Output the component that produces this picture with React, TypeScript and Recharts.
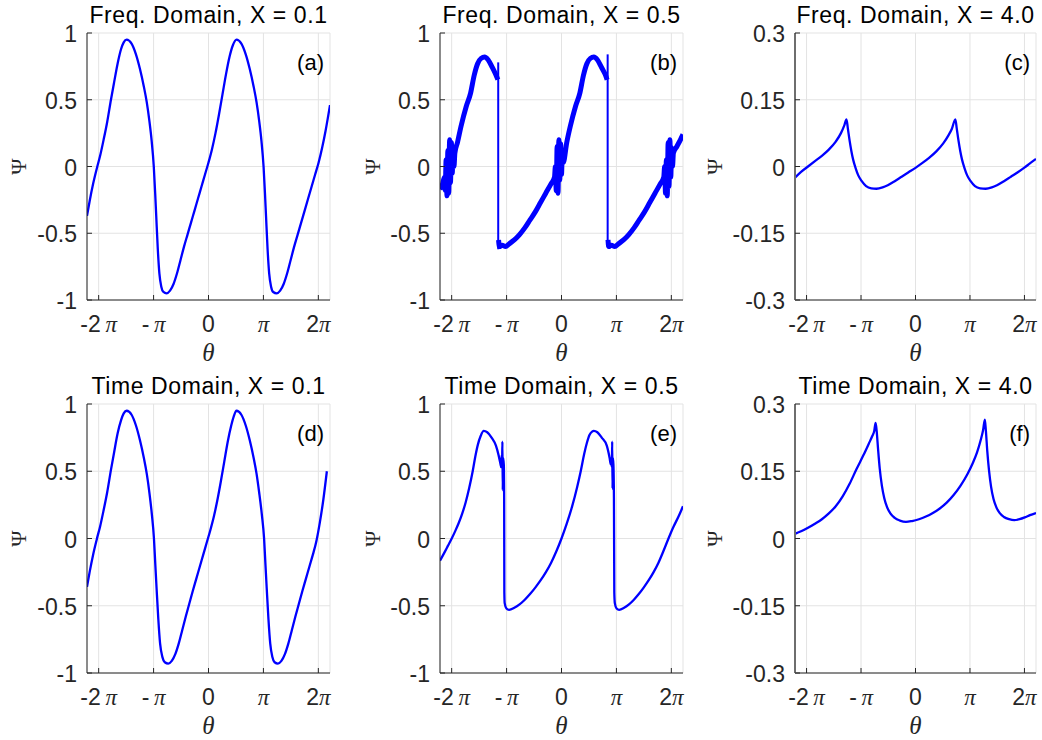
import React from 'react';
import { LineChart, Line, XAxis, YAxis, CartesianGrid } from 'recharts';

const PI = Math.PI;
const XMAX = 6.95;
const xTickVals = [-2 * PI, -PI, 0, PI, 2 * PI];
const xTickPrefix = ['-2\u2009', '-\u2009', '0', '', '2'];
const xTickHasPi = [true, true, false, true, true];

const yTicksUnit = [-1, -0.5, 0, 0.5, 1];
const yLabelsUnit = ['-1', '-0.5', '0', '0.5', '1'];
const yTicksSmall = [-0.3, -0.15, 0, 0.15, 0.3];
const yLabelsSmall = ['-0.3', '-0.15', '0', '0.15', '0.3'];

const titles = [
  'Freq. Domain, X = 0.1', 'Freq. Domain, X = 0.5', 'Freq. Domain, X = 4.0',
  'Time Domain, X = 0.1', 'Time Domain, X = 0.5', 'Time Domain, X = 4.0',
];
const letters = ['(a)', '(b)', '(c)', '(d)', '(e)', '(f)'];

// Panel (a) Freq. Domain X=0.1
const thetaA = [-6.95, -6.8, -6.6, -6.36, -6.2, -6.0, -5.8, -5.58, -5.4, -5.2, -5.0, -4.85, -4.68, -4.4, -4.15, -3.92, -3.7, -3.53, -3.38, -3.25, -3.13, -3.05, -2.99, -2.9, -2.81, -2.7, -2.58, -2.4, -2.2, -2.0, -1.8, -1.6, -1.4, -1.2, -1.0, -0.8, -0.6, -0.4, -0.2, 0.0, 0.2, 0.4, 0.6, 0.8, 1.0, 1.2, 1.4, 1.6, 1.88, 2.13, 2.36, 2.58, 2.75, 2.9, 3.03, 3.15, 3.23, 3.29, 3.38, 3.47, 3.58, 3.7, 3.9, 4.1, 4.3, 4.5, 4.7, 4.9, 5.1, 5.3, 5.5, 5.7, 5.9, 6.1, 6.3, 6.5, 6.7, 6.95];
const psiA = [-0.37, -0.26, -0.13, 0.0, 0.08, 0.2, 0.33, 0.5, 0.63, 0.77, 0.88, 0.93, 0.95, 0.92, 0.84, 0.73, 0.6, 0.48, 0.34, 0.19, 0.0, -0.2, -0.37, -0.62, -0.8, -0.9, -0.94, -0.95, -0.93, -0.88, -0.8, -0.7, -0.6, -0.51, -0.42, -0.33, -0.24, -0.15, -0.06, 0.03, 0.13, 0.25, 0.39, 0.54, 0.69, 0.82, 0.91, 0.95, 0.92, 0.84, 0.73, 0.6, 0.48, 0.34, 0.19, 0.0, -0.2, -0.37, -0.62, -0.8, -0.9, -0.94, -0.95, -0.93, -0.88, -0.8, -0.7, -0.6, -0.51, -0.42, -0.33, -0.24, -0.15, -0.06, 0.03, 0.14, 0.27, 0.46];

// Panel (b) Freq. Domain X=0.5 (thick noisy band + thin jumps)
const thetaB1 = [-6.95, -6.8, -6.7, -6.65, -6.6, -6.55, -6.5, -6.45, -6.4, -6.35, -6.3, -6.25, -6.2, -6.15, -6.1, -5.95, -5.75, -5.45, -5.2, -5.0, -4.8, -4.6, -4.4, -4.2, -3.95, -3.8, -3.7, -3.64];
const psiB1 = [-0.17, -0.13, -0.08, -0.18, 0.05, -0.22, 0.12, -0.2, 0.2, -0.12, 0.18, -0.05, 0.14, 0.0, 0.1, 0.18, 0.3, 0.45, 0.55, 0.68, 0.77, 0.81, 0.82, 0.8, 0.74, 0.7, 0.67, 0.65];
const thetaB2 = [-3.6, -3.55, -3.4, -3.2, -3.0, -2.7, -2.4, -2.1, -1.8, -1.5, -1.2, -0.9, -0.6, -0.4, -0.35, -0.3, -0.25, -0.2, -0.15, -0.1, -0.05, 0.0, 0.05, 0.1, 0.3, 0.5, 0.8, 1.05, 1.25, 1.45, 1.65, 1.85, 2.05, 2.3, 2.5, 2.61];
const psiB2 = [-0.55, -0.6, -0.59, -0.6, -0.58, -0.55, -0.51, -0.46, -0.4, -0.34, -0.27, -0.2, -0.13, -0.08, 0.0, -0.18, 0.15, -0.2, 0.2, -0.1, 0.17, -0.06, 0.12, 0.03, 0.18, 0.3, 0.45, 0.55, 0.68, 0.77, 0.81, 0.82, 0.8, 0.74, 0.69, 0.65];
const thetaB3 = [2.66, 2.7, 2.85, 3.05, 3.25, 3.55, 3.85, 4.15, 4.45, 4.75, 5.05, 5.35, 5.65, 5.85, 5.9, 5.95, 6.0, 6.05, 6.1, 6.15, 6.2, 6.25, 6.3, 6.35, 6.4, 6.6, 6.8, 6.95];
const psiB3 = [-0.55, -0.6, -0.59, -0.6, -0.58, -0.55, -0.51, -0.46, -0.4, -0.34, -0.27, -0.2, -0.13, -0.08, 0.0, -0.2, 0.05, -0.22, 0.18, -0.15, 0.2, -0.08, 0.14, 0.0, 0.1, 0.15, 0.2, 0.24];
const thetaJumpB1 = [-3.62, -3.62];
const psiJumpB1 = [0.78, -0.62];
const thetaJumpB2 = [2.64, 2.64];
const psiJumpB2 = [0.84, -0.6];

// Panel (c) Freq. Domain X=4.0
const thetaC = [-6.95, -6.6, -6.2, -5.8, -5.4, -5.0, -4.6, -4.3, -4.1, -3.98, -3.9, -3.8, -3.7, -3.6, -3.45, -3.3, -3.1, -2.85, -2.55, -2.25, -1.9, -1.6, -1.2, -0.8, -0.4, 0, 0.4, 0.8, 1.2, 1.6, 1.9, 2.1, 2.3, 2.38, 2.48, 2.58, 2.68, 2.83, 2.98, 3.18, 3.43, 3.73, 4.05, 4.4, 4.7, 5.1, 5.5, 5.9, 6.3, 6.6, 6.95];
const psiC = [-0.025, -0.012, 0.0, 0.012, 0.024, 0.038, 0.056, 0.075, 0.093, 0.106, 0.085, 0.058, 0.035, 0.016, -0.004, -0.02, -0.033, -0.044, -0.049, -0.05, -0.047, -0.042, -0.033, -0.023, -0.013, -0.003, 0.008, 0.02, 0.034, 0.052, 0.07, 0.085, 0.106, 0.085, 0.058, 0.035, 0.016, -0.004, -0.02, -0.033, -0.044, -0.049, -0.05, -0.047, -0.042, -0.033, -0.023, -0.013, -0.002, 0.007, 0.017];

// Panel (d) Time Domain X=0.1
const thetaD = [-6.95, -6.8, -6.6, -6.36, -6.2, -6.0, -5.8, -5.58, -5.4, -5.2, -5.0, -4.85, -4.68, -4.4, -4.15, -3.92, -3.7, -3.53, -3.38, -3.24, -3.12, -3.04, -2.97, -2.87, -2.77, -2.64, -2.5, -2.3, -2.1, -1.9, -1.7, -1.5, -1.3, -1.1, -0.9, -0.7, -0.5, -0.3, -0.1, 0.1, 0.3, 0.5, 0.7, 0.9, 1.1, 1.3, 1.45, 1.6, 1.88, 2.13, 2.36, 2.58, 2.75, 2.9, 3.05, 3.18, 3.26, 3.33, 3.43, 3.53, 3.65, 3.78, 3.97, 4.17, 4.37, 4.57, 4.77, 4.97, 5.17, 5.37, 5.57, 5.77, 5.97, 6.17, 6.37, 6.57, 6.77, 6.95];
const psiD = [-0.36, -0.25, -0.12, 0.01, 0.09, 0.21, 0.34, 0.51, 0.64, 0.78, 0.88, 0.93, 0.95, 0.92, 0.84, 0.73, 0.6, 0.48, 0.34, 0.18, 0.0, -0.2, -0.37, -0.6, -0.78, -0.88, -0.92, -0.93, -0.91, -0.86, -0.78, -0.68, -0.58, -0.485, -0.39, -0.3, -0.21, -0.12, -0.03, 0.06, 0.16, 0.28, 0.42, 0.57, 0.72, 0.84, 0.91, 0.95, 0.92, 0.84, 0.73, 0.6, 0.48, 0.34, 0.18, 0.0, -0.2, -0.37, -0.6, -0.78, -0.88, -0.92, -0.93, -0.91, -0.86, -0.78, -0.68, -0.58, -0.485, -0.39, -0.3, -0.21, -0.12, -0.02, 0.12, 0.29, 0.5];

// Panel (e) Time Domain X=0.5
const thetaE = [-6.95, -6.7, -6.5, -6.28, -6.08, -5.88, -5.68, -5.48, -5.28, -5.08, -4.93, -4.78, -4.63, -4.45, -4.25, -4.0, -3.75, -3.6, -3.5, -3.45, -3.42, -3.4, -3.38, -3.36, -3.34, -3.3, -3.28, -3.27, -3.25, -3.15, -3.0, -2.7, -2.4, -2.1, -1.8, -1.5, -1.2, -0.9, -0.6, -0.3, 0.0, 0.3, 0.6, 0.9, 1.1, 1.3, 1.45, 1.6, 1.75, 1.85, 2.05, 2.3, 2.59, 2.75, 2.82, 2.86, 2.88, 2.9, 2.92, 2.94, 2.97, 3.0, 3.02, 3.05, 3.15, 3.3, 3.58, 3.86, 4.14, 4.42, 4.7, 4.98, 5.26, 5.54, 5.82, 6.12, 6.4, 6.7, 6.95];
const psiE = [-0.165, -0.105, -0.055, 0.0, 0.055, 0.115, 0.185, 0.27, 0.375, 0.5, 0.61, 0.7, 0.76, 0.8, 0.79, 0.75, 0.69, 0.62, 0.56, 0.53, 0.62, 0.55, 0.72, 0.36, 0.6, 0.55, 0.3, -0.4, -0.48, -0.52, -0.53, -0.515, -0.49, -0.455, -0.413, -0.365, -0.312, -0.252, -0.182, -0.097, 0.0, 0.11, 0.235, 0.385, 0.5, 0.63, 0.71, 0.77, 0.795, 0.8, 0.79, 0.75, 0.69, 0.6, 0.55, 0.6, 0.53, 0.72, 0.37, 0.6, 0.55, 0.3, -0.4, -0.48, -0.52, -0.53, -0.515, -0.49, -0.455, -0.413, -0.365, -0.312, -0.252, -0.182, -0.097, 0.0, 0.085, 0.165, 0.24];

// Panel (f) Time Domain X=4.0
const thetaF = [-6.95, -6.6, -6.2, -5.8, -5.4, -5.0, -4.6, -4.2, -3.8, -3.4, -3.0, -2.7, -2.5, -2.38, -2.3, -2.24, -2.16, -2.06, -1.94, -1.8, -1.64, -1.45, -1.2, -0.9, -0.55, -0.2, 0.2, 0.6, 1.0, 1.4, 1.8, 2.2, 2.6, 3.0, 3.3, 3.55, 3.75, 3.9, 4.0, 4.06, 4.14, 4.24, 4.36, 4.5, 4.66, 4.85, 5.1, 5.4, 5.7, 6.0, 6.3, 6.6, 6.95];
const psiF = [0.0104, 0.016, 0.024, 0.033, 0.043, 0.056, 0.072, 0.094, 0.122, 0.155, 0.186, 0.211, 0.228, 0.24, 0.258, 0.24, 0.2, 0.155, 0.118, 0.09, 0.07, 0.056, 0.046, 0.04, 0.037, 0.039, 0.043, 0.049, 0.057, 0.067, 0.08, 0.097, 0.118, 0.144, 0.168, 0.192, 0.218, 0.242, 0.265, 0.24, 0.195, 0.152, 0.115, 0.088, 0.07, 0.057, 0.048, 0.043, 0.041, 0.043, 0.047, 0.052, 0.057];

type Pt = { x: number; y: number };
const zip = (xs: number[], ys: number[]): Pt[] => xs.map((x, i) => ({ x, y: ys[i] }));

const SANS = '"Liberation Sans", Arial, Helvetica, sans-serif';
const SERIF = '"Liberation Serif", "Times New Roman", serif';
const AX = '#262626';

const colLeft = [87, 440, 795];
const colW = [243, 243, 241];
const rowTop = [33, 404];
const rowH = [267, 269];
const psiX = [18, 372, 714];

type Series = { data: Pt[]; width: number };

const XTick = (props: any) => {
  const { x, y, payload } = props;
  const idx = xTickVals.findIndex((v) => Math.abs(v - payload.value) < 1e-6);
  if (idx < 0) return null;
  return (
    <g>
      <line x1={x} y1={y} x2={x} y2={y - 5} stroke={AX} strokeWidth={1} />
      <text x={x} y={y + 32} textAnchor="middle" fontSize={23} fontFamily={SANS} fill={AX}>
        <tspan>{xTickPrefix[idx]}</tspan>
        {xTickHasPi[idx] ? <tspan fontFamily={SERIF} fontStyle="italic">π</tspan> : null}
      </text>
    </g>
  );
};

const TopTick = (props: any) => {
  const { x, y } = props;
  return <line x1={x} y1={y} x2={x} y2={y + 5} stroke={AX} strokeWidth={1} />;
};

const makeYTick = (ticks: number[], labels: string[]) => (props: any) => {
  const { x, y, payload } = props;
  const idx = ticks.findIndex((v) => Math.abs(v - payload.value) < 1e-9);
  return (
    <g>
      <line x1={x} y1={y} x2={x + 5} y2={y} stroke={AX} strokeWidth={1} />
      <text x={x - 10} y={y + 9} textAnchor="end" fontSize={23} fontFamily={SANS} fill={AX}>
        {idx >= 0 ? labels[idx] : ''}
      </text>
    </g>
  );
};

const RightTick = (props: any) => {
  const { x, y } = props;
  return <line x1={x} y1={y} x2={x - 5} y2={y} stroke={AX} strokeWidth={1} />;
};

function Panel(props: {
  left: number; top: number; w: number; h: number; heavySides: boolean;
  series: Series[]; yTicks: number[]; yLabels: string[]; yDomain: [number, number];
}) {
  const { left, top, w, h, series, yTicks, yLabels, yDomain, heavySides } = props;
  const ML = 90, MT = 30, MR = 6, XH = 45;
  const YTick = makeYTick(yTicks, yLabels);
  const sideLine = heavySides ? { stroke: '#6e6e6e', strokeWidth: 2 } : { stroke: AX, strokeWidth: 1 };
  return (
    <div style={{ position: 'absolute', left: left - ML, top: top - MT }}>
      <LineChart width={ML + w + MR} height={MT + h + XH} margin={{ top: MT, right: MR, bottom: 0, left: 0 }}>
        <CartesianGrid stroke="#e3e3e3" strokeWidth={1} />
        <XAxis dataKey="x" type="number" domain={[-XMAX, XMAX]} ticks={xTickVals} interval={0}
          allowDataOverflow height={XH} tickSize={0} tickMargin={0} tickLine={false}
          stroke={AX} tick={(p: any) => <XTick {...p} />} />
        <XAxis xAxisId="top" dataKey="x" orientation="top" type="number" domain={[-XMAX, XMAX]} ticks={xTickVals}
          interval={0} allowDataOverflow height={0} tickSize={0} tickMargin={0} tickLine={false}
          stroke={AX} tick={(p: any) => <TopTick {...p} />} />
        <YAxis type="number" domain={yDomain} ticks={yTicks} interval={0} allowDataOverflow width={ML}
          tickSize={0} tickMargin={0} tickLine={false} axisLine={sideLine} tick={(p: any) => <YTick {...p} />} />
        <YAxis yAxisId="right" orientation="right" type="number" domain={yDomain} ticks={yTicks} interval={0}
          allowDataOverflow width={0} tickSize={0} tickMargin={0} tickLine={false} axisLine={sideLine}
          tick={(p: any) => <RightTick {...p} />} />
        {series.map((s, i) => (
          <Line key={i} data={s.data} dataKey="y" type="monotone" stroke="#0000ff" strokeWidth={s.width}
            strokeLinejoin="round" dot={false} activeDot={false} isAnimationActive={false} />
        ))}
      </LineChart>
    </div>
  );
}

export default function App() {
  const panels: { series: Series[]; small: boolean }[] = [
    { series: [{ data: zip(thetaA, psiA), width: 2.3 }], small: false },
    {
      series: [
        { data: zip(thetaB1, psiB1), width: 5 },
        { data: zip(thetaB2, psiB2), width: 5 },
        { data: zip(thetaB3, psiB3), width: 5 },
        { data: zip(thetaJumpB1, psiJumpB1), width: 2 },
        { data: zip(thetaJumpB2, psiJumpB2), width: 2 },
      ], small: false,
    },
    { series: [{ data: zip(thetaC, psiC), width: 2.3 }], small: true },
    { series: [{ data: zip(thetaD, psiD), width: 2.3 }], small: false },
    { series: [{ data: zip(thetaE, psiE), width: 2.3 }], small: false },
    { series: [{ data: zip(thetaF, psiF), width: 2.3 }], small: true },
  ];

  return (
    <div style={{ position: 'absolute', left: 0, top: 0, width: 1042, height: 740, overflow: 'hidden', background: '#fff' }}>
      {panels.map((p, i) => {
        const c = i % 3, r = Math.floor(i / 3);
        return (
          <Panel key={i} left={colLeft[c]} top={rowTop[r]} w={colW[c]} h={rowH[r]} series={p.series}
            heavySides={p.small}
            yTicks={p.small ? yTicksSmall : yTicksUnit} yLabels={p.small ? yLabelsSmall : yLabelsUnit}
            yDomain={p.small ? [-0.3, 0.3] : [-1, 1]} />
        );
      })}
      <svg width={1042} height={740} style={{ position: 'absolute', left: 0, top: 0, pointerEvents: 'none' }}>
        {panels.map((p, i) => {
          const c = i % 3, r = Math.floor(i / 3);
          const L = colLeft[c], W = colW[c], T = rowTop[r], H = rowH[r];
          const cx = L + W / 2, cy = T + H / 2;
          return (
            <g key={i}>
              <text x={cx} y={T - 10} textAnchor="middle" fontSize={23} letterSpacing={0.6} fontFamily={SANS} fill="#000">{titles[i]}</text>
              <text x={L + W - 6} y={T + 37} textAnchor="end" fontSize={22} fontFamily={SANS} fill="#000">{letters[i]}</text>
              <text x={cx} y={T + H + 61} textAnchor="middle" fontSize={25} fontFamily={SERIF} fontStyle="italic" fill={AX}>θ</text>
              <text x={psiX[c]} y={cy} transform={`rotate(-90 ${psiX[c]} ${cy})`} textAnchor="middle" dominantBaseline="central" fontSize={22} fontFamily={SERIF} fill={AX}>Ψ</text>
            </g>
          );
        })}
      </svg>
    </div>
  );
}
